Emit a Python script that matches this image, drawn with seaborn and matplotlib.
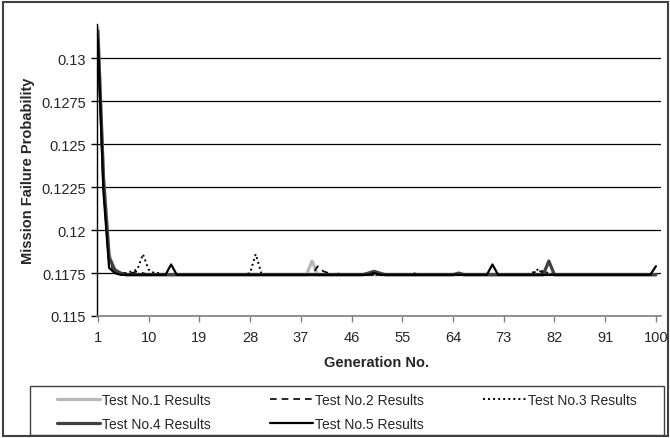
import matplotlib
matplotlib.use("Agg")
import matplotlib.pyplot as plt
import seaborn as sns
from matplotlib.patches import Rectangle

generations = list(range(1, 101))

test1 = [
    0.1318, 0.1232, 0.1186, 0.1176, 0.1175, 0.1174, 0.1174, 0.1174, 0.1174, 0.1174,
    0.1174, 0.1174, 0.1174, 0.1174, 0.1174, 0.1174, 0.1174, 0.1174, 0.1174, 0.1174,
    0.1174, 0.1174, 0.1174, 0.1174, 0.1174, 0.1174, 0.1174, 0.1174, 0.1174, 0.1174,
    0.1174, 0.1174, 0.1174, 0.1174, 0.1174, 0.1174, 0.1174, 0.1174, 0.1182, 0.1174,
    0.1174, 0.1174, 0.1174, 0.1174, 0.1174, 0.1174, 0.1174, 0.1174, 0.1174, 0.1174,
    0.1174, 0.1174, 0.1174, 0.1174, 0.1174, 0.1174, 0.1174, 0.1174, 0.1174, 0.1174,
    0.1174, 0.1174, 0.1174, 0.1174, 0.1174, 0.1174, 0.1174, 0.1174, 0.1174, 0.1174,
    0.1174, 0.1174, 0.1174, 0.1174, 0.1174, 0.1174, 0.1174, 0.1174, 0.1174, 0.1174,
    0.1174, 0.1174, 0.1174, 0.1174, 0.1174, 0.1174, 0.1174, 0.1174, 0.1174, 0.1174,
    0.1174, 0.1174, 0.1174, 0.1174, 0.1174, 0.1174, 0.1174, 0.1174, 0.1174, 0.1174,
]
test2 = [
    0.1315, 0.1228, 0.1182, 0.1176, 0.1175, 0.1175, 0.1175, 0.1176, 0.1175, 0.1174,
    0.1174, 0.1174, 0.1174, 0.1174, 0.1174, 0.1174, 0.1174, 0.1174, 0.1174, 0.1174,
    0.1174, 0.1174, 0.1174, 0.1174, 0.1174, 0.1174, 0.1174, 0.1174, 0.1174, 0.1174,
    0.1174, 0.1174, 0.1174, 0.1174, 0.1174, 0.1174, 0.1174, 0.1174, 0.1174, 0.1179,
    0.1176, 0.1175, 0.1174, 0.1175, 0.1174, 0.1174, 0.1174, 0.1174, 0.1174, 0.1174,
    0.1174, 0.1174, 0.1174, 0.1174, 0.1174, 0.1174, 0.1175, 0.1174, 0.1174, 0.1174,
    0.1174, 0.1174, 0.1174, 0.1174, 0.1174, 0.1174, 0.1174, 0.1174, 0.1174, 0.1174,
    0.1174, 0.1174, 0.1174, 0.1174, 0.1174, 0.1174, 0.1174, 0.1174, 0.1177, 0.1175,
    0.1174, 0.1174, 0.1174, 0.1174, 0.1174, 0.1174, 0.1174, 0.1174, 0.1174, 0.1174,
    0.1174, 0.1174, 0.1174, 0.1174, 0.1174, 0.1174, 0.1174, 0.1174, 0.1174, 0.1174,
]
test3 = [
    0.1313, 0.1225, 0.1180, 0.1176, 0.1175, 0.1175, 0.1176, 0.1177, 0.1186, 0.1177,
    0.1175, 0.1175, 0.1174, 0.1174, 0.1174, 0.1174, 0.1174, 0.1174, 0.1174, 0.1174,
    0.1174, 0.1174, 0.1174, 0.1174, 0.1174, 0.1174, 0.1174, 0.1175, 0.1186, 0.1175,
    0.1174, 0.1174, 0.1174, 0.1174, 0.1174, 0.1174, 0.1174, 0.1174, 0.1174, 0.1174,
    0.1174, 0.1174, 0.1174, 0.1174, 0.1174, 0.1174, 0.1174, 0.1174, 0.1174, 0.1174,
    0.1174, 0.1174, 0.1174, 0.1174, 0.1174, 0.1174, 0.1174, 0.1174, 0.1174, 0.1174,
    0.1174, 0.1174, 0.1174, 0.1174, 0.1174, 0.1174, 0.1174, 0.1174, 0.1174, 0.1174,
    0.1174, 0.1174, 0.1174, 0.1174, 0.1174, 0.1174, 0.1174, 0.1175, 0.1177, 0.1176,
    0.1175, 0.1174, 0.1174, 0.1174, 0.1174, 0.1174, 0.1174, 0.1174, 0.1174, 0.1174,
    0.1174, 0.1174, 0.1174, 0.1174, 0.1174, 0.1174, 0.1174, 0.1174, 0.1174, 0.1174,
]
test4 = [
    0.1316, 0.1230, 0.1184, 0.1177, 0.1175, 0.1174, 0.1174, 0.1174, 0.1174, 0.1174,
    0.1174, 0.1174, 0.1174, 0.1174, 0.1174, 0.1174, 0.1174, 0.1174, 0.1174, 0.1174,
    0.1174, 0.1174, 0.1174, 0.1174, 0.1174, 0.1174, 0.1174, 0.1174, 0.1174, 0.1174,
    0.1174, 0.1174, 0.1174, 0.1174, 0.1174, 0.1174, 0.1174, 0.1174, 0.1174, 0.1174,
    0.1174, 0.1174, 0.1174, 0.1174, 0.1174, 0.1174, 0.1174, 0.1174, 0.1175, 0.1176,
    0.1175, 0.1174, 0.1174, 0.1174, 0.1174, 0.1174, 0.1174, 0.1174, 0.1174, 0.1174,
    0.1174, 0.1174, 0.1174, 0.1174, 0.1175, 0.1174, 0.1174, 0.1174, 0.1174, 0.1174,
    0.1174, 0.1174, 0.1174, 0.1174, 0.1174, 0.1174, 0.1174, 0.1174, 0.1174, 0.1174,
    0.1182, 0.1174, 0.1174, 0.1174, 0.1174, 0.1174, 0.1174, 0.1174, 0.1174, 0.1174,
    0.1174, 0.1174, 0.1174, 0.1174, 0.1174, 0.1174, 0.1174, 0.1174, 0.1174, 0.1174,
]
test5 = [
    0.1311, 0.1222, 0.1178, 0.1175, 0.1174, 0.1174, 0.1174, 0.1174, 0.1174, 0.1174,
    0.1174, 0.1174, 0.1174, 0.1180, 0.1174, 0.1174, 0.1174, 0.1174, 0.1174, 0.1174,
    0.1174, 0.1174, 0.1174, 0.1174, 0.1174, 0.1174, 0.1174, 0.1174, 0.1174, 0.1174,
    0.1174, 0.1174, 0.1174, 0.1174, 0.1174, 0.1174, 0.1174, 0.1174, 0.1174, 0.1174,
    0.1174, 0.1174, 0.1174, 0.1174, 0.1174, 0.1174, 0.1174, 0.1174, 0.1174, 0.1175,
    0.1174, 0.1174, 0.1174, 0.1174, 0.1174, 0.1174, 0.1174, 0.1174, 0.1174, 0.1174,
    0.1174, 0.1174, 0.1174, 0.1174, 0.1174, 0.1174, 0.1174, 0.1174, 0.1174, 0.1174,
    0.1180, 0.1174, 0.1174, 0.1174, 0.1174, 0.1174, 0.1174, 0.1174, 0.1174, 0.1174,
    0.1174, 0.1174, 0.1174, 0.1174, 0.1174, 0.1174, 0.1174, 0.1174, 0.1174, 0.1174,
    0.1174, 0.1174, 0.1174, 0.1174, 0.1174, 0.1174, 0.1174, 0.1174, 0.1174, 0.1179,
]

labels = ["Test No.1 Results", "Test No.2 Results", "Test No.3 Results",
          "Test No.4 Results", "Test No.5 Results"]
y_ticks = [0.115, 0.1175, 0.12, 0.1225, 0.125, 0.1275, 0.13]
y_tick_labels = ["0.115", "0.1175", "0.12", "0.1225", "0.125", "0.1275", "0.13"]
x_ticks = [1, 10, 19, 28, 37, 46, 55, 64, 73, 82, 91, 100]

sns.set_style("white")
plt.rcParams["font.family"] = ["Liberation Sans", "DejaVu Sans"]

W, H = 670, 439
fig = plt.figure(figsize=(6.7, 4.39), dpi=100)
ax = fig.add_axes([97 / W, 1 - 317 / H, (661 - 97) / W, (317 - 25) / H])

styles = [
    dict(color="#b8b8b8", lw=2.3, ls="-"),
    dict(color="black", lw=1.2, ls=(0, (4, 3))),
    dict(color="black", lw=1.4, ls=(0, (1, 1.6))),
    dict(color="#404040", lw=2.3, ls="-"),
    dict(color="black", lw=1.6, ls="-"),
]
series = [test1, test2, test3, test4, test5]
for vals, lab, st in zip(series, labels, styles):
    sns.lineplot(x=generations, y=vals, ax=ax, label=lab, color=st["color"],
                 linewidth=st["lw"], linestyle=st["ls"], legend=False)

ax.set_xlim(0.85, 100.9)
ax.set_ylim(0.115, 0.132)
ax.set_yticks(y_ticks)
ax.set_yticklabels(y_tick_labels)
ax.set_xticks(x_ticks)
ax.yaxis.grid(True, color="black", lw=0.9)
ax.set_axisbelow(True)
for s in ["top", "right"]:
    ax.spines[s].set_visible(False)
ax.spines["left"].set_color("black")
ax.spines["left"].set_linewidth(1.0)
ax.spines["bottom"].set_color("#808080")
ax.spines["bottom"].set_linewidth(1.2)
ax.tick_params(axis="y", direction="out", length=4, width=1, color="black",
               pad=4, labelsize=10.5, left=True)
ax.tick_params(axis="x", direction="out", length=4, width=1, color="#808080",
               pad=6, labelsize=10.5, bottom=True)

fig.text(28 / W, 1 - 171 / H, "Mission Failure Probability", rotation=90,
         ha="center", va="center", fontsize=10.5, fontweight="bold")
fig.text(377 / W, 1 - 363 / H, "Generation No.", ha="center", va="center",
         fontsize=10.5, fontweight="bold")

handles, labs = ax.get_legend_handles_labels()
order = [0, 3, 1, 4, 2]
fig.legend([handles[i] for i in order], [labs[i] for i in order], ncol=3,
           loc="upper left", bbox_to_anchor=(57 / W, 1 - 394 / H),
           frameon=False, fontsize=10, handlelength=3.1, handletextpad=0.15,
           columnspacing=4.25, labelspacing=0.72, borderpad=0, borderaxespad=0)

fig.patches.append(Rectangle((30 / W, 1 - 436 / H), (664 - 30) / W, (436 - 387) / H,
                             transform=fig.transFigure, fill=False,
                             edgecolor="#404040", lw=1.0))
fig.patches.append(Rectangle((2.5 / W, 2.5 / H), (W - 5) / W, (H - 5) / H,
                             transform=fig.transFigure, fill=False,
                             edgecolor="#404040", lw=1.5))

fig.savefig("out.png", dpi=100)
